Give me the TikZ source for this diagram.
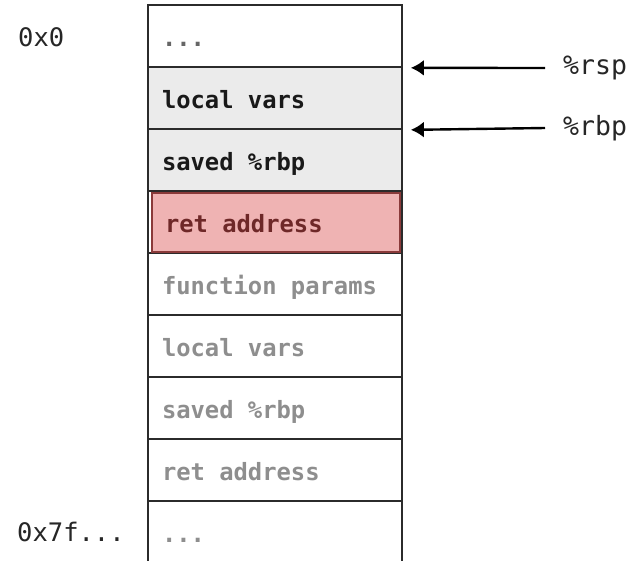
\documentclass[tikz,border=0pt]{standalone}
\usepackage{fontspec}
\newfontfamily\stackmono{DejaVu Sans Mono}
\usetikzlibrary{arrows.meta}
\definecolor{gridline}{HTML}{2B2B2B}
\definecolor{grayfill}{HTML}{EBEBEB}
\definecolor{redfill}{HTML}{EFB3B3}
\definecolor{redline}{HTML}{8A3A3A}
\definecolor{redtext}{HTML}{6E2828}
\definecolor{fadetext}{HTML}{8E8E8E}
\newcommand{\celltext}[2][226pt]{\makebox[#1][l]{#2}}
\tikzset{
  cell/.style={draw=gridline, line width=1.7pt, minimum height=62pt,
    inner xsep=14pt, inner ysep=0pt, text height=20pt, text depth=0pt,
    font=\stackmono\bfseries\fontsize{23.8}{28}\selectfont},
  active/.style={cell, fill=grayfill, text=black!90},
  faded/.style={cell, fill=white, text=fadetext},
  addr/.style={anchor=west, inner sep=0pt, text=black!85,
    font=\stackmono\fontsize{25.5}{30}\selectfont},
  reg/.style={anchor=west, inner sep=0pt, text=black!85,
    font=\stackmono\fontsize{26.5}{31}\selectfont},
  ptr/.style={line width=2.4pt, -{Latex[length=13pt,width=16pt]}}
}
\begin{document}
\begin{tikzpicture}[x=1pt,y=-1pt]
\useasboundingbox[fill=white] (0,0) rectangle (639,560);
\node[faded, text=black!60] (r1) at (275,36) {\celltext{...}};
\node[active] (r2) at (275,98) {\celltext{local vars}};
\node[active] (r3) at (275,160) {\celltext{saved \%rbp}};
\node[faded] (r4) at (275,222) {\celltext{}};
\node[faded] (r5) at (275,284) {\celltext{function params}};
\node[faded] (r6) at (275,346) {\celltext{local vars}};
\node[faded] (r7) at (275,408) {\celltext{saved \%rbp}};
\node[faded] (r8) at (275,470) {\celltext{ret address}};
\node[faded] (r9) at (275,532) {\celltext{...}};
\node[cell, draw=redline, fill=redfill, text=redtext, line width=1.4pt,
      minimum height=59pt, inner xsep=13pt] (ret) at (276,222.5) {\celltext[222pt]{ret address}};
\node[addr] (a0) at (18,37) {0x0};
\node[addr] (a1) at (17,532) {0x7f...};
\node[reg] (rsp) at (563,68) {\%rsp};
\node[reg] (rbp) at (563,128) {\%rbp};
\draw[ptr] ([xshift=-18pt]rsp.west) -- ([xshift=8pt]r1.south east);
\draw[ptr] ([xshift=-18pt]rbp.west) -- ([xshift=8pt]r2.south east);
\end{tikzpicture}
\end{document}
